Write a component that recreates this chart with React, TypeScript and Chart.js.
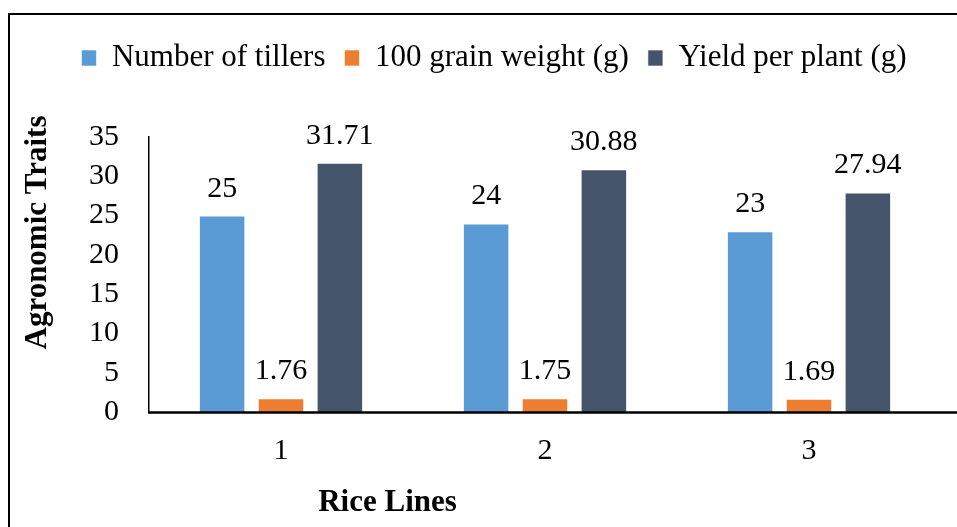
import React, { useEffect, useRef } from "react";
import { Chart, registerables } from "chart.js";

Chart.register(...registerables);

const categories = ["1", "2", "3"];
const tillers = [25, 24, 23];
const grainWeight = [1.76, 1.75, 1.69];
const yieldPerPlant = [31.71, 30.88, 27.94];
const seriesNames = ["Number of tillers", "100 grain weight (g)", "Yield per plant (g)"];
const seriesColors = ["#5B9BD5", "#ED7D31", "#44546A"];
const yTitle = "Agronomic Traits";
const xTitle = "Rice Lines";

const FONT = '"Liberation Serif", "Times New Roman", serif';

export default function App() {
  const ref = useRef<HTMLCanvasElement | null>(null);

  useEffect(() => {
    document.body.style.margin = "0";
    const canvas = ref.current;
    if (!canvas) return;

    const legendSpacer = {
      id: "legendSpacer",
      beforeInit(chart: any) {
        const legend = chart.legend;
        if (!legend) return;
        const orig = legend.fit;
        legend.fit = function () {
          orig.call(this);
          this.height += 53.5;
        };
      },
    };

    const valueLabels = {
      id: "valueLabels",
      afterDatasetsDraw(chart: any) {
        const ctx = chart.ctx;
        ctx.save();
        ctx.font = `30px ${FONT}`;
        ctx.fillStyle = "#000";
        ctx.textAlign = "center";
        ctx.textBaseline = "alphabetic";
        chart.data.datasets.forEach((ds: any, i: number) => {
          const meta = chart.getDatasetMeta(i);
          meta.data.forEach((el: any, j: number) => {
            ctx.fillText(String(ds.data[j]), el.x, el.y - 19);
          });
        });
        ctx.restore();
      },
    };

    const axisDecor = {
      id: "axisDecor",
      afterDraw(chart: any) {
        const ctx = chart.ctx;
        const a = chart.chartArea;
        ctx.save();
        ctx.strokeStyle = "#000";
        ctx.lineWidth = 2.5;
        ctx.beginPath();
        ctx.moveTo(a.left - 1, a.bottom + 0.5);
        ctx.lineTo(chart.width, a.bottom + 0.5);
        ctx.stroke();
        ctx.fillStyle = "#000";
        ctx.font = `bold 31px ${FONT}`;
        ctx.textAlign = "center";
        ctx.textBaseline = "alphabetic";
        ctx.fillText(xTitle, a.left + 238.5, a.bottom + 99);
        ctx.translate(a.left - 103, a.top + 95.5);
        ctx.rotate(-Math.PI / 2);
        ctx.fillText(yTitle, 0, 0);
        ctx.restore();
      },
    };

    const chart = new Chart(canvas, {
      type: "bar",
      data: {
        labels: categories,
        datasets: [
          { label: seriesNames[0], data: tillers, backgroundColor: seriesColors[0] },
          { label: seriesNames[1], data: grainWeight, backgroundColor: seriesColors[1] },
          { label: seriesNames[2], data: yieldPerPlant, backgroundColor: seriesColors[2] },
        ].map((d) => ({
          ...d,
          borderColor: "rgba(255,255,255,0.6)",
          borderWidth: 1,
          categoryPercentage: 0.669,
          barPercentage: 0.79,
        })),
      },
      options: {
        responsive: false,
        animation: false,
        layout: { padding: { top: 23.5, left: 47, right: 16, bottom: 37 } },
        font: { family: FONT },
        plugins: {
          tooltip: { enabled: false },
          title: { display: false },
          legend: {
            display: true,
            position: "top",
            labels: {
              boxWidth: 15,
              boxHeight: 16,
              padding: 19,
              color: "#000",
              font: { family: FONT, size: 31 },
            },
          },
        },
        scales: {
          x: {
            grid: { display: false, drawTicks: false },
            border: { display: false },
            ticks: {
              color: "#000",
              padding: 21,
              font: { family: FONT, size: 30 },
            },
          },
          y: {
            min: 0,
            max: 35,
            afterFit(scale: any) {
              scale.width = 102;
            },
            grid: { display: false, drawTicks: false },
            border: { display: true, color: "#000", width: 1.5 },
            ticks: {
              stepSize: 5,
              autoSkip: false,
              color: "#000",
              padding: 30,
              font: { family: FONT, size: 30 },
            },
          },
        },
      },
      plugins: [legendSpacer, valueLabels, axisDecor],
    } as any);

    return () => chart.destroy();
  }, []);

  return (
    <div style={{ position: "relative", width: 957, height: 527, overflow: "hidden", background: "#fff" }}>
      <div
        style={{
          position: "absolute",
          left: 8,
          top: 13,
          width: 1000,
          height: 600,
          border: "2px solid #000",
          boxSizing: "border-box",
        }}
      />
      <canvas
        ref={ref}
        width={957}
        height={527}
        style={{ position: "absolute", left: 0, top: 0, display: "block" }}
      />
    </div>
  );
}
